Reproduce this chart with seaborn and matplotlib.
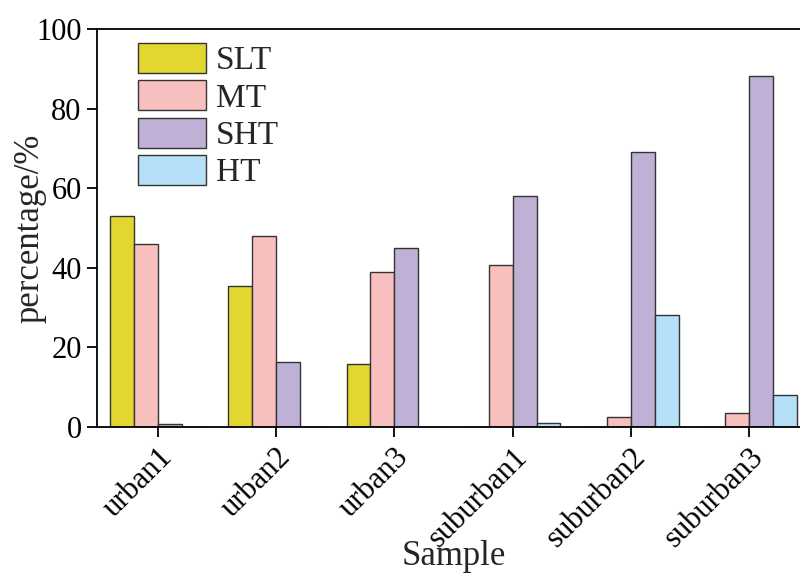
import pandas as pd
import seaborn as sns
import matplotlib.pyplot as plt

samples = ["urban1", "urban2", "urban3", "suburban1", "suburban2", "suburban3"]
slt = [53.1, 35.5, 15.8, 0.0, 0.0, 0.0]
mt = [46.1, 48.0, 39.0, 40.7, 2.6, 3.4]
sht = [0.7, 16.4, 44.9, 58.1, 69.1, 88.2]
ht = [0.0, 0.0, 0.0, 1.1, 28.1, 8.1]
series = ["SLT", "MT", "SHT", "HT"]
colors = ["#e3d630", "#f8bfbf", "#bfb0d5", "#b5e0f7"]

df = pd.DataFrame({"Sample": samples, "SLT": slt, "MT": mt, "SHT": sht, "HT": ht})
long = df.melt(id_vars="Sample", var_name="type", value_name="pct")

sns.set_theme(style="ticks")
plt.rcParams["font.family"] = ["Liberation Serif", "DejaVu Serif"]

fig = plt.figure(figsize=(8, 5.74), dpi=100)
ax = fig.add_axes([97 / 800, 1 - 427 / 574, 713 / 800, 398 / 574])

sns.barplot(data=long, x="Sample", y="pct", hue="type", hue_order=series,
            palette=colors, width=0.81, edgecolor="#333333", linewidth=1,
            saturation=1, ax=ax)

ax.set_ylim(0, 100)
ax.set_xlim(-0.516, 5.516)
ax.set_yticks(range(0, 101, 20))
ax.tick_params(axis="both", direction="out", length=7, width=1.3, pad=4,
               color="black", labelsize=22, labelcolor="black")
for lbl in ax.get_xticklabels():
    lbl.set_rotation(45)
    lbl.set_ha("right")
    lbl.set_rotation_mode("anchor")
for s in ["left", "bottom", "top", "right"]:
    ax.spines[s].set_linewidth(1.3)
    ax.spines[s].set_color("black")

ax.set_xlabel("Sample", fontsize=25)
ax.set_ylabel("percentage/%", fontsize=25)
# labels sit closer than matplotlib would put them
ax.yaxis.set_label_coords(-0.071, 0.5)
ax.xaxis.set_label_coords(0.5, -0.284)

ax.legend(loc="upper left", bbox_to_anchor=(41 / 713, 1 - 14 / 398), frameon=False,
          fontsize=24, handlelength=2.05, handleheight=1.0,
          labelspacing=0.12, handletextpad=0.28, borderaxespad=0, borderpad=0)

fig.savefig("out.png", dpi=100)
